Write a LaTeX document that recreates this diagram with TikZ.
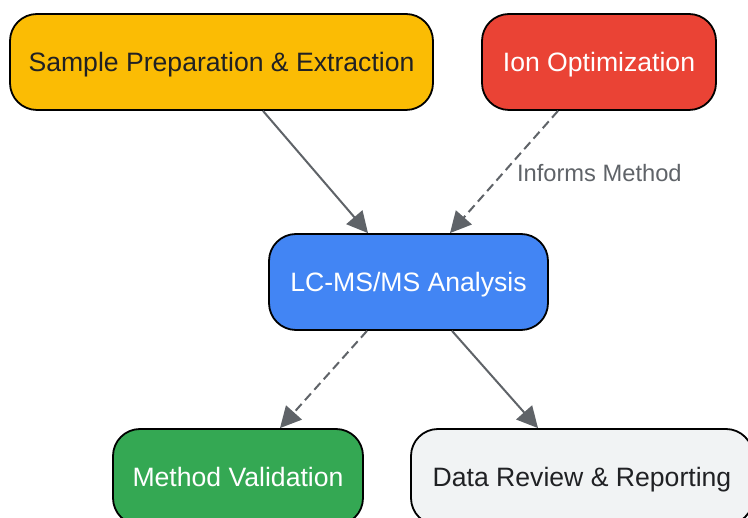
\documentclass[tikz,border=0pt]{standalone}
\usepackage{fontspec}
\setmainfont{Liberation Sans}
\usepackage{tikz}
\usepackage{xcolor}
\usetikzlibrary{arrows.meta}

\definecolor{gyellow}{HTML}{FBBC04}
\definecolor{gred}{HTML}{EA4335}
\definecolor{gblue}{HTML}{4285F4}
\definecolor{ggreen}{HTML}{34A853}
\definecolor{glight}{HTML}{F1F3F4}
\definecolor{gdark}{HTML}{202124}
\definecolor{garrow}{HTML}{5F6368}

\tikzset{
    stage/.style={draw=black, line width=1.8pt, rounded corners=27pt,
        minimum height=96pt, inner sep=0pt, align=center,
        text height=18.5pt, text depth=0pt,
        font=\fontsize{26.6}{32}\selectfont},
    flow/.style={draw=garrow, line width=2pt,
        -{Triangle[length=21pt,width=21pt]}},
    weak/.style={flow, dash pattern=on 9pt off 5pt},
    note/.style={text=garrow, inner sep=0pt,
        font=\fontsize{23.7}{28}\selectfont}
}

\begin{document}
\begin{tikzpicture}[x=1pt,y=-1pt]
        \useasboundingbox (0,0) rectangle (748,518);
        % Stages
        \draw (221.5,62) node[stage,fill=gyellow,text=gdark,minimum width=423pt](sample) {Sample Preparation \& Extraction};
        \draw (599,62) node[stage,fill=gred,text=white,minimum width=234pt](ion) {Ion Optimization};
        \draw (408.5,282) node[stage,fill=gblue,text=white,minimum width=279pt](lcms) {LC-MS/MS Analysis};
        \draw (238,477) node[stage,fill=ggreen,text=white,minimum width=250pt](valid) {Method Validation};
        \draw (582,477) node[stage,fill=glight,text=gdark,minimum width=342pt](review) {Data Review \& Reporting};
        % Connections
        \draw[flow] ([xshift=41.5pt]sample.south) -- ([xshift=-40.5pt]lcms.north);
        \draw[weak] ([xshift=-41pt]ion.south) -- ([xshift=41.5pt]lcms.north)
            node[note,midway,anchor=west,xshift=12pt,yshift=-1.5pt](informs) {Informs Method};
        \draw[weak] ([xshift=-41.5pt]lcms.south) -- ([xshift=42pt]valid.north);
        \draw[flow] ([xshift=43.5pt]lcms.south) -- ([xshift=-44pt]review.north);
    \end{tikzpicture}
\end{document}
